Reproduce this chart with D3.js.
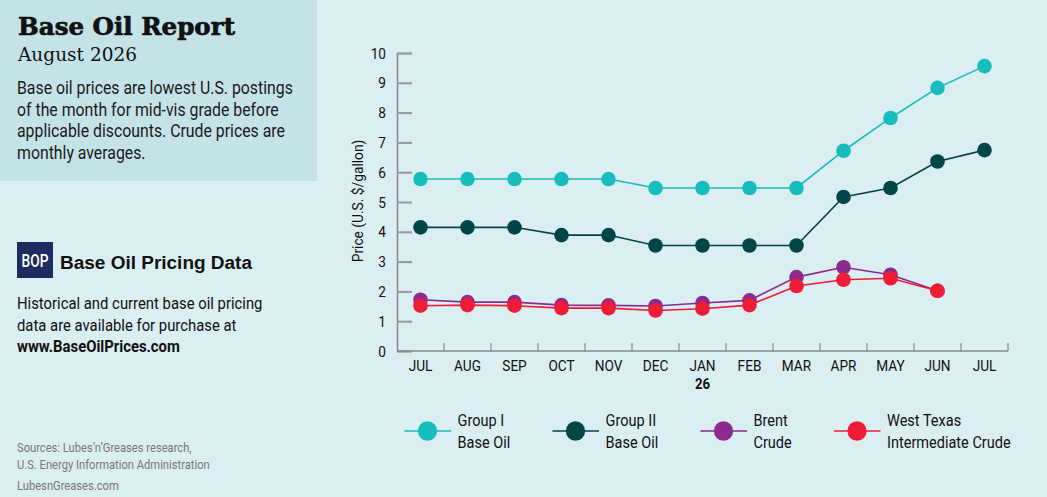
<!DOCTYPE html>
<html>
<head>
<meta charset="utf-8">
<script src="https://cdn.jsdelivr.net/npm/d3@7"></script>
<style>
  html, body { margin: 0; padding: 0; background: #dbeef2; }
  svg { display: block; }
  text { font-family: Roboto, "Liberation Sans", sans-serif; }
</style>
</head>
<body>
<div id="chart"></div>
<script>
var months = ['JUL', 'AUG', 'SEP', 'OCT', 'NOV', 'DEC', 'JAN', 'FEB', 'MAR', 'APR', 'MAY', 'JUN', 'JUL2'];
var monthLabels = ['JUL', 'AUG', 'SEP', 'OCT', 'NOV', 'DEC', 'JAN', 'FEB', 'MAR', 'APR', 'MAY', 'JUN', 'JUL'];
var yTicks = [0, 1, 2, 3, 4, 5, 6, 7, 8, 9, 10];

var groupI  = [5.77, 5.77, 5.77, 5.77, 5.77, 5.47, 5.47, 5.47, 5.47, 6.72, 7.82, 8.83, 9.56];
var groupII = [4.15, 4.15, 4.15, 3.89, 3.89, 3.54, 3.54, 3.54, 3.54, 5.17, 5.47, 6.36, 6.74];
var brent   = [1.72, 1.64, 1.64, 1.54, 1.53, 1.51, 1.61, 1.70, 2.48, 2.81, 2.56, 2.02];
var wti     = [1.52, 1.54, 1.52, 1.44, 1.44, 1.36, 1.42, 1.54, 2.18, 2.39, 2.44, 2.02];

var seriesNames = [['Group I', 'Base Oil'], ['Group II', 'Base Oil'], ['Brent', 'Crude'], ['West Texas', 'Intermediate Crude']];
var seriesColors = ['#17bdbd', '#004646', '#8d2a8e', '#ee1c34'];

var W = 1047, H = 497;
var SX = 0.88;   // squeeze for the condensed look

var svg = d3.select('#chart')
    .append('svg')
    .attr('width', W)
    .attr('height', H);

// condensed text helper
function ctext(parent, x, y, str, size, opts) {
    opts = opts || {};
    return parent.append('text')
        .attr('transform', 'translate(' + x + ',' + y + ') scale(' + (opts.sx || SX) + ',1)')
        .attr('text-anchor', opts.anchor || 'start')
        .style('font-size', size + 'px')
        .style('font-weight', opts.bold ? 'bold' : 'normal')
        .attr('fill', opts.fill || '#111')
        .text(str);
}

svg.append('rect').attr('width', W).attr('height', H).attr('fill', '#dbeef2');

// top-left info panel
svg.append('rect')
    .attr('x', 0).attr('y', 0)
    .attr('width', 317).attr('height', 181)
    .attr('fill', '#c4e3e7');

svg.append('text')
    .attr('x', 18).attr('y', 35)
    .style('font-family', '"DejaVu Serif", serif')
    .style('font-weight', 'bold')
    .style('font-size', '25px')
    .attr('textLength', 217)
    .attr('lengthAdjust', 'spacingAndGlyphs')
    .attr('fill', '#111')
    .attr('stroke', '#111')
    .attr('stroke-width', 0.7)
    .text('Base Oil Report');

svg.append('text')
    .attr('x', 18).attr('y', 61)
    .style('font-family', '"DejaVu Serif", serif')
    .style('font-size', '18px')
    .attr('textLength', 119)
    .attr('lengthAdjust', 'spacingAndGlyphs')
    .attr('fill', '#111')
    .text('August 2026');

var intro = ['Base oil prices are lowest U.S. postings',
    'of the month for mid-vis grade before',
    'applicable discounts. Crude prices are',
    'monthly averages.'];
intro.forEach((d, i) => ctext(svg, 17, 94.3 + i * 21.4, d, 18, {fill: '#1a1a1a'}));

// BOP block
svg.append('rect')
    .attr('x', 17).attr('y', 242)
    .attr('width', 36).attr('height', 36)
    .attr('fill', '#1f2c62');
ctext(svg, 35, 267, 'BOP', 18.5, {anchor: 'middle', fill: '#fff', sx: 0.74})
    .style('font-weight', 500);

svg.append('text')
    .attr('x', 60).attr('y', 268.5)
    .style('font-family', '"Liberation Sans", Arial, sans-serif')
    .style('font-weight', 'bold')
    .style('font-size', '18px')
    .attr('textLength', 192)
    .attr('lengthAdjust', 'spacingAndGlyphs')
    .attr('fill', '#111')
    .text('Base Oil Pricing Data');

var promo = ['Historical and current base oil pricing', 'data are available for purchase at'];
promo.forEach((d, i) => ctext(svg, 17, 309.3 + i * 21.5, d, 16.5, {sx: 0.9}));
ctext(svg, 17, 352, 'www.BaseOilPrices.com', 16.5, {bold: true, sx: 0.9});

var sources = ['Sources: Lubes\u2019n\u2019Greases research,', 'U.S. Energy Information Administration', 'LubesnGreases.com'];
var srcY = [452, 469, 490];
sources.forEach((d, i) => ctext(svg, 17, srcY[i], d, 12.7, {fill: '#777'}));

// chart
var x = d3.scaleBand()
    .domain(months)
    .range([397, 1008]);

var y = d3.scaleLinear()
    .domain([0, 10])
    .range([351, 53]);

var xc = d => x(d) + x.bandwidth() / 2;

var g = svg.append('g');

// y axis
var yAxis = g.append('g')
    .attr('transform', 'translate(397,0)')
    .call(d3.axisRight(y).tickValues(yTicks).tickSize(15).tickFormat(''));
yAxis.select('.domain').attr('stroke', '#888').attr('stroke-width', 1.5);
yAxis.selectAll('.tick line').attr('stroke', '#999').attr('stroke-width', 2);

yTicks.forEach(d => ctext(g, 386, y(d) + 5.5, d, 15.5, {anchor: 'end'}));

// x axis
var bounds = months.slice(1).map(m => x(m)).concat([x.range()[1]]);
g.append('line')
    .attr('x1', 397).attr('x2', 1008)
    .attr('y1', y(0)).attr('y2', y(0))
    .attr('stroke', '#888').attr('stroke-width', 1.5);
g.selectAll('.xtick')
    .data(bounds)
    .enter()
    .append('line')
    .attr('x1', d => d).attr('x2', d => d)
    .attr('y1', y(0)).attr('y2', y(0) - 8)
    .attr('stroke', '#888').attr('stroke-width', 1.2);

months.forEach((m, i) => ctext(g, xc(m), 371, monthLabels[i], 15.5, {anchor: 'middle'}));
ctext(g, xc('JAN'), 388.5, '26', 15, {anchor: 'middle', bold: true});

g.append('text')
    .attr('transform', 'translate(363,201) rotate(-90) scale(0.95,1)')
    .attr('text-anchor', 'middle')
    .style('font-size', '14.5px')
    .attr('fill', '#111')
    .text('Price (U.S. $/gallon)');

// lines and points
var allSeries = [groupI, groupII, brent, wti];
var line = d3.line()
    .x((d, i) => xc(months[i]))
    .y(d => y(d));

allSeries.forEach((vals, k) => {
    g.append('path')
        .datum(vals)
        .attr('d', line)
        .attr('fill', 'none')
        .attr('stroke', seriesColors[k])
        .attr('stroke-width', 1.6);
});
allSeries.forEach((vals, k) => {
    g.selectAll('.pt' + k)
        .data(vals)
        .enter()
        .append('circle')
        .attr('cx', (d, i) => xc(months[i]))
        .attr('cy', d => y(d))
        .attr('r', 7.3)
        .attr('fill', seriesColors[k]);
});

// legend
var legX = [404.5, 552.5, 700.5, 834];
var leg = svg.selectAll('.leg')
    .data(seriesNames)
    .enter()
    .append('g')
    .attr('transform', (d, i) => 'translate(' + legX[i] + ',431)');
leg.append('line')
    .attr('x1', 0).attr('x2', 46.5)
    .attr('stroke', (d, i) => seriesColors[i])
    .attr('stroke-width', 1.6);
leg.append('ellipse')
    .attr('cx', 23).attr('rx', 9.6).attr('ry', 9.8)
    .attr('fill', (d, i) => seriesColors[i]);
leg.each(function(d) {
    var s = d3.select(this);
    ctext(s, 53, -5, d[0], 16.5);
    ctext(s, 53, 16.5, d[1], 16.5);
});
</script>
</body>
</html>
